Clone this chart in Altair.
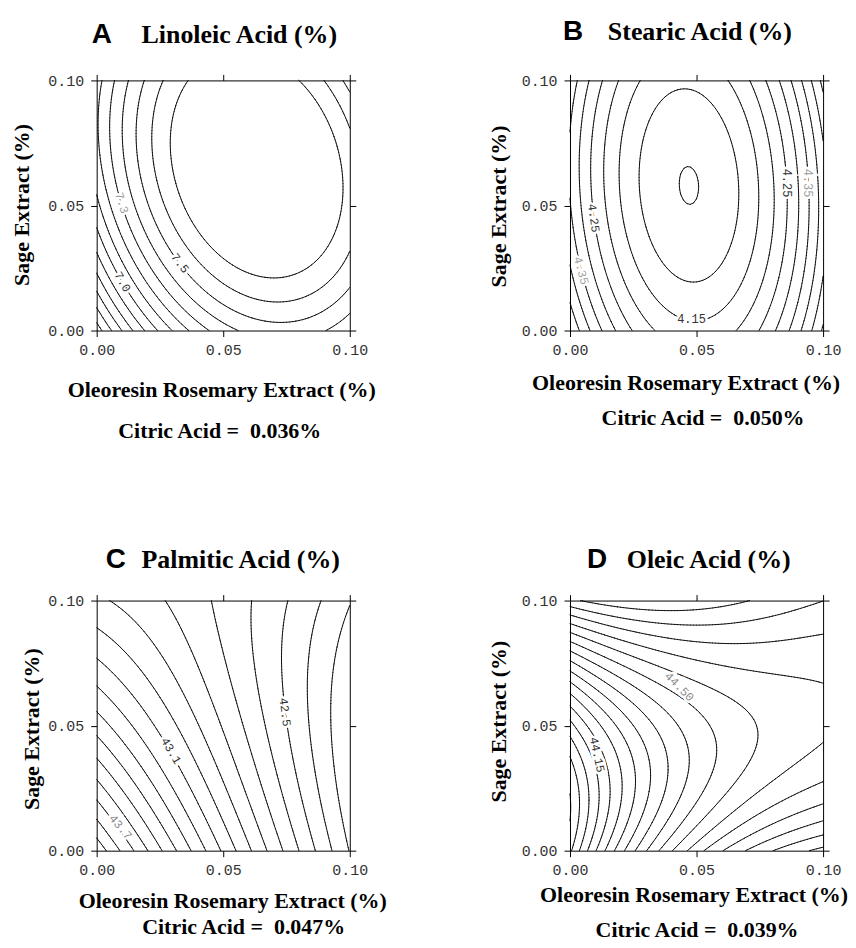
import numpy as np
import pandas as pd
import altair as alt

# ---------------- text ----------------
PANEL_KEYS = ["A", "B", "C", "D"]
PANEL_NAMES = ["Linoleic Acid (%)", "Stearic Acid (%)", "Palmitic Acid (%)", "Oleic Acid (%)"]
CITRIC = ["0.036%", "0.050%", "0.047%", "0.039%"]
X_TITLE = "Oleoresin Rosemary Extract (%)"
Y_TITLE = "Sage Extract (%)"
TICKS = [0.0, 0.05, 0.10]

# ---------------- response surfaces ----------------
# coefficients of [1, u, v, u^2, v^2, u*v, u^2*v] with u = 100*x (%), v = 100*y (%)
COEF_A = [6.4446, 0.27638, 0.17973, -0.01887, -0.01087, -0.005736, 0.0]
COEF_B = [4.49741, -0.133947, -0.046427, 0.0135, 0.00351, 0.001215, 0.0]
COEF_C = [43.97, -0.187, -0.14, 0.00195, 0.0035, 0.0149, -0.000428]

# D (oleic): contour points (x %, y %, contour level)
D_X = [0, 0, 0, 0, 0, 0, 0, 0, 0, 0, 0, 0, 0, 0,
       0.0005, 0.003, 0.007, 0.010, 0.014, 0.018, 0.022, 0.026, 0.030, 0.035, 0.0406,
       0.0475, 0.055, 0.0614, 0.071, 0.081, 0.091,
       0.10, 0.10, 0.10, 0.10, 0.10, 0.10, 0.10, 0.10, 0.10,
       0.051, 0.071, 0.061,
       0.0108, 0.0433, 0.070, 0.0747, 0.075, 0.0523, 0.0556,
       0, 0, 0, 0.10]
D_Y = [0.041, 0.050, 0.0556, 0.0595, 0.0642, 0.0675, 0.0714, 0.0747, 0.0787, 0.0827, 0.086, 0.090, 0.0939, 0.0979,
       0, 0, 0, 0, 0, 0, 0, 0, 0, 0, 0, 0, 0, 0, 0, 0, 0,
       0.002, 0.0073, 0.0119, 0.0185, 0.0258, 0.0364, 0.0795, 0.090, 0.0974,
       0.10, 0.10, 0.0988,
       0.0384, 0.0656, 0.047, 0.0291, 0.070, 0.0543, 0.041,
       0, 0.020, 0.10, 0.10]
D_LEVEL = [44.00, 44.05, 44.10, 44.15, 44.20, 44.25, 44.30, 44.35, 44.40, 44.45, 44.50, 44.55, 44.60, 44.65,
           44.00, 44.05, 44.10, 44.15, 44.20, 44.25, 44.30, 44.35, 44.40, 44.45, 44.50,
           44.55, 44.60, 44.65, 44.70, 44.75, 44.80,
           44.80, 44.75, 44.70, 44.65, 44.60, 44.55, 44.55, 44.60, 44.65,
           44.70, 44.70, 44.70,
           44.15, 44.50, 44.50, 44.55, 44.55, 44.45, 44.45,
           43.99, 43.97, 44.67, 44.68]

LEVELS_A = [6.5, 6.6, 6.7, 6.8, 6.9, 7.0, 7.1, 7.2, 7.3, 7.4, 7.5, 7.6, 7.7]
LEVELS_B = [4.05, 4.10, 4.15, 4.20, 4.25, 4.30, 4.35, 4.40, 4.45, 4.50]
LEVELS_C = [42.3, 42.4, 42.5, 42.6, 42.7, 42.8, 42.9, 43.0, 43.1, 43.2, 43.3, 43.4, 43.5, 43.6, 43.7, 43.8, 43.9]
LEVELS_D = [43.90, 43.95, 44.00, 44.05, 44.10, 44.15, 44.20, 44.25, 44.30, 44.35, 44.40, 44.45, 44.50,
            44.55, 44.60, 44.65, 44.70, 44.75, 44.80, 44.85]

# contour labels (x %, y %, text, angle, shade)
LAB_A = dict(x=[0.0103, 0.033, 0.010], y=[0.0195, 0.027, 0.051],
             t=["7.0", "7.5", "7.3"], a=[60, 53, 73], c=["#333333", "#333333", "#9a9a9a"])
LAB_B = dict(x=[0.0095, 0.0856, 0.0045, 0.0942, 0.048], y=[0.045, 0.059, 0.024, 0.059, 0.0048],
             t=["4.25", "4.25", "4.35", "4.35", "4.15"], a=[82, 90, 75, 90, 0],
             c=["#333333", "#333333", "#a0a0a0", "#a0a0a0", "#333333"])
LAB_C = dict(x=[0.0295, 0.0745, 0.0095], y=[0.040, 0.0554, 0.0095],
             t=["43.1", "42.5", "43.7"], a=[60, 83, 50], c=["#333333", "#333333", "#8a8a8a"])
LAB_D = dict(x=[0.0433, 0.0108], y=[0.0656, 0.0384],
             t=["44.50", "44.15"], a=[45, 78], c=["#8a8a8a", "#333333"])

# ---------------- surfaces on a grid ----------------
N = 81
g = np.linspace(0.0, 10.0, N)
U, V = np.meshgrid(g, g)


def poly7(c, u, v):
    return c[0] + c[1] * u + c[2] * v + c[3] * u ** 2 + c[4] * v ** 2 + c[5] * u * v + c[6] * u ** 2 * v


def cubic_basis(u, v):
    return np.stack([np.ones_like(u), u, v, u ** 2, u * v, v ** 2, u ** 3, u ** 2 * v, u * v ** 2, v ** 3], axis=-1)


du = np.array(D_X) * 100
dv = np.array(D_Y) * 100
coef_d, *_ = np.linalg.lstsq(cubic_basis(du, dv), np.array(D_LEVEL), rcond=None)

SURF = {
    "A": poly7(COEF_A, U, V),
    "B": poly7(COEF_B, U, V),
    "C": poly7(COEF_C, U, V),
    "D": cubic_basis(U, V) @ coef_d,
}
LEVELS = {"A": LEVELS_A, "B": LEVELS_B, "C": LEVELS_C, "D": LEVELS_D}

TABLE = {1: [("L", "B")], 2: [("B", "R")], 3: [("L", "R")], 4: [("R", "T")],
         5: [("L", "B"), ("R", "T")], 6: [("B", "T")], 7: [("L", "T")], 8: [("L", "T")],
         9: [("B", "T")], 10: [("B", "R"), ("L", "T")], 11: [("R", "T")], 12: [("L", "R")],
         13: [("B", "R")], 14: [("L", "B")]}


def contour_segments(F, level):
    step = g[1] - g[0]
    f00, f10, f01, f11 = F[:-1, :-1], F[:-1, 1:], F[1:, :-1], F[1:, 1:]
    case = (f00 > level).astype(int) + 2 * (f10 > level) + 4 * (f11 > level) + 8 * (f01 > level)
    UI = np.broadcast_to(g[:-1][None, :], f00.shape)
    VJ = np.broadcast_to(g[:-1][:, None], f00.shape)
    with np.errstate(divide="ignore", invalid="ignore"):
        tB = (level - f00) / (f10 - f00)
        tR = (level - f10) / (f11 - f10)
        tT = (level - f01) / (f11 - f01)
        tL = (level - f00) / (f01 - f00)
    P = {"B": (UI + tB * step, VJ), "R": (UI + step, VJ + tR * step),
         "T": (UI + tT * step, VJ + step), "L": (UI, VJ + tL * step)}
    out = []
    for k, pairs in TABLE.items():
        m = case == k
        if not m.any():
            continue
        for a, b in pairs:
            out.append(np.column_stack([P[a][0][m], P[a][1][m], P[b][0][m], P[b][1][m]]))
    return np.vstack(out) if out else np.zeros((0, 4))


def seg_frame(key):
    rows = []
    for lev in LEVELS[key]:
        s = contour_segments(SURF[key], lev)
        if len(s):
            d = pd.DataFrame(np.round(s / 100.0, 6), columns=["x", "y", "x2", "y2"])
            d["level"] = lev
            rows.append(d)
    return pd.concat(rows, ignore_index=True)


# ---------------- styling ----------------
W, H = 254, 251
SERIF = "Liberation Serif"
SANS = "Liberation Sans"
MONO = "Liberation Mono"

# per-panel placement of titles (pixels relative to the plot area)
LAYOUT = {
    "A": dict(letter_x=-5, name_x=45, title_y=-38, ytx=-75, yty=124.5, xtx=125, xty=66, cx=123.5, cy=108),
    "B": dict(letter_x=-7, name_x=38, title_y=-41, ytx=-72, yty=126, xtx=116, xty=59, cx=133.5, cy=95),
    "C": dict(letter_x=9, name_x=45, title_y=-33, ytx=-65, yty=128.5, xtx=136, xty=57, cx=147.5, cy=84),
    "D": dict(letter_x=17, name_x=57, title_y=-33, ytx=-72, yty=121, xtx=124, xty=51, cx=127.5, cy=87),
}
LABS = {"A": LAB_A, "B": LAB_B, "C": LAB_C, "D": LAB_D}

SX = alt.Scale(domain=[0.0, 0.10], nice=False, zero=False)
SY = alt.Scale(domain=[0.0, 0.10], nice=False, zero=False)


def text_layer(s, x, y, font, size, align="left"):
    return alt.Chart(pd.DataFrame({"t": [s]})).mark_text(
        align=align, baseline="alphabetic", font=font, fontSize=size, fontWeight="bold", color="black"
    ).encode(x=alt.value(x), y=alt.value(y), text="t:N")


def panel(i):
    key = PANEL_KEYS[i]
    L = LAYOUT[key]
    segs = seg_frame(key)
    labs = pd.DataFrame(LABS[key])

    common_axis = dict(values=TICKS, tickSize=6, tickColor="black", tickWidth=1,
                       domainColor="black", domainWidth=1, grid=False)
    x_axis = alt.Axis(orient="bottom", format=".2f", title=X_TITLE,
                      titleX=L["xtx"], titleY=L["xty"], titleBaseline="alphabetic", titleAlign="center",
                      titleAngle=0, titleFont=SERIF, titleFontSize=22, titleFontWeight="bold",
                      titleColor="black", labelFont=MONO, labelFontSize=15, labelColor="#333333",
                      labelPadding=6, labelFlush=False, labelOverlap=False, **common_axis)
    y_axis = alt.Axis(orient="left", format=".2f", title=Y_TITLE,
                      titleX=L["ytx"], titleY=L["yty"], titleBaseline="middle", titleAlign="center",
                      titleAngle=270, titleFont=SERIF, titleFontSize=22, titleFontWeight="bold",
                      titleColor="black", labelFont=MONO, labelFontSize=15, labelColor="#333333",
                      labelPadding=7, labelFlush=False, labelOverlap=False, **common_axis)
    top_axis = alt.Axis(orient="top", labels=False, title="", **common_axis)
    right_axis = alt.Axis(orient="right", labels=False, title="", **common_axis)

    lines = alt.Chart(segs).mark_rule(color="black", strokeWidth=0.9, strokeCap="round").encode(
        x=alt.X("x:Q", scale=SX, axis=x_axis),
        y=alt.Y("y:Q", scale=SY, axis=y_axis),
        x2="x2:Q", y2="y2:Q",
    )
    frame = alt.Chart(pd.DataFrame({"x": [0.0, 0.10], "y": [0.0, 0.10]})).mark_point(opacity=0).encode(
        x=alt.X("x:Q", scale=SX, axis=top_axis),
        y=alt.Y("y:Q", scale=SY, axis=right_axis),
    )
    halo = alt.Chart(labs).mark_text(font=MONO, fontSize=12, align="center", baseline="middle",
                                     fill="white", stroke="white", strokeWidth=5).encode(
        x=alt.X("x:Q", scale=SX, axis=None), y=alt.Y("y:Q", scale=SY, axis=None),
        text="t:N", angle=alt.Angle("a:Q", scale=None),
    )
    lab = alt.Chart(labs).mark_text(font=MONO, fontSize=12, align="center", baseline="middle").encode(
        x=alt.X("x:Q", scale=SX, axis=None), y=alt.Y("y:Q", scale=SY, axis=None),
        text="t:N", angle=alt.Angle("a:Q", scale=None), color=alt.Color("c:N", scale=None),
    )
    letter = text_layer(key, L["letter_x"], L["title_y"], SANS, 28)
    name = text_layer(PANEL_NAMES[i], L["name_x"], L["title_y"], SERIF, 26)
    citric = text_layer("Citric Acid =\u00a0 " + CITRIC[i], L["cx"], H + L["cy"], SERIF, 22, align="center")

    return alt.layer(lines, halo, lab, frame, letter, name, citric).resolve_axis(
        x="independent", y="independent"
    ).properties(width=W, height=H)


chart = alt.concat(
    *[panel(i) for i in range(4)],
    columns=2,
    spacing={"row": 271, "column": 221},
    bounds="flush",
).properties(
    padding={"left": 3, "top": 8, "right": 0, "bottom": 5}
).configure_view(strokeWidth=0)

chart.save("out.html", embed_options={"renderer": "svg", "actions": False})
